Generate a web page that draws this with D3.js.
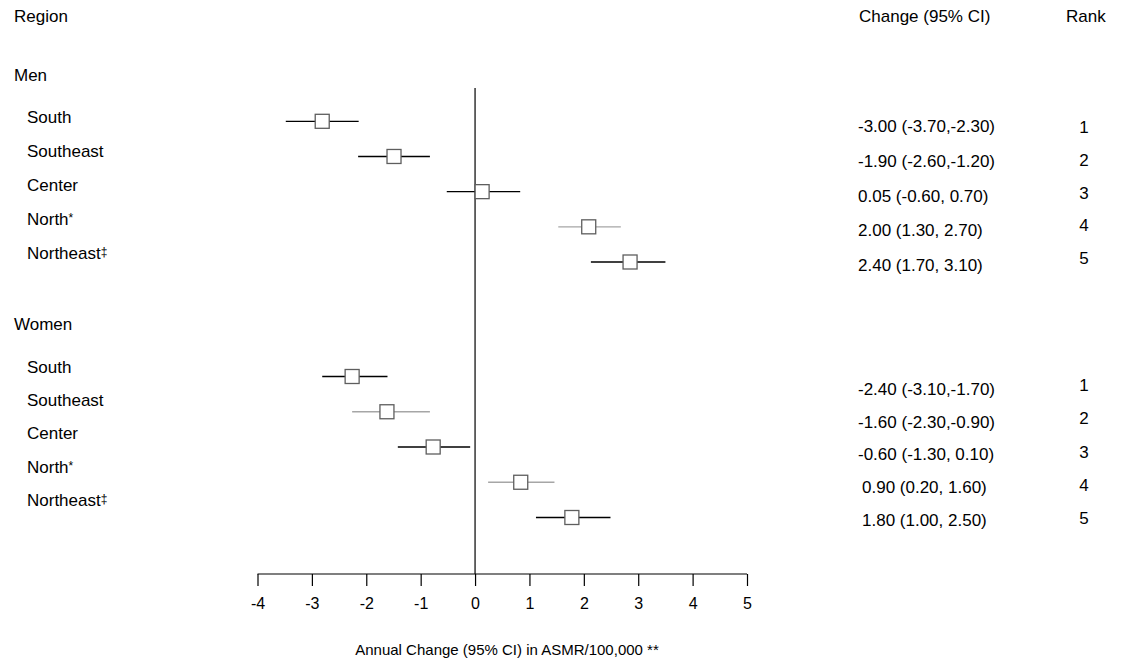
<!DOCTYPE html>
<html>
<head>
<meta charset="utf-8">
<script src="https://cdn.jsdelivr.net/npm/d3@7/dist/d3.min.js"></script>
<style>
  html, body { margin: 0; padding: 0; background: #fff; }
  svg { display: block; }
  text { font-family: "Liberation Sans", Arial, Helvetica, sans-serif; fill: #000; }
</style>
</head>
<body>
<svg id="chart" width="1125" height="663"></svg>
<script>
// ---------- data ----------
const groups = ["Men", "Women"];
const regions = ["South", "Southeast", "Center", "North*", "Northeast\u2021"];

// plotted estimates and 95% CI (as drawn in the figure)
const menEst   = [-2.81, -1.49, 0.13, 2.09, 2.85];
const menLow   = [-3.48, -2.15, -0.52, 1.53, 2.13];
const menHigh  = [-2.14, -0.83, 0.83, 2.68, 3.50];
const womenEst  = [-2.26, -1.62, -0.77, 0.84, 1.78];
const womenLow  = [-2.81, -2.26, -1.42, 0.24, 1.12];
const womenHigh = [-1.61, -0.83, -0.09, 1.46, 2.49];

// text columns
const menCI   = ["-3.00 (-3.70,-2.30)", "-1.90 (-2.60,-1.20)", "0.05 (-0.60, 0.70)", "2.00 (1.30, 2.70)", "2.40 (1.70, 3.10)"];
const womenCI = ["-2.40 (-3.10,-1.70)", "-1.60 (-2.30,-0.90)", "-0.60 (-1.30, 0.10)", "0.90 (0.20, 1.60)", "1.80 (1.00, 2.50)"];
const menRank   = ["1", "2", "3", "4", "5"];
const womenRank = ["1", "2", "3", "4", "5"];

const xTicks = [-4, -3, -2, -1, 0, 1, 2, 3, 4, 5];
const xLabel = "Annual Change (95% CI) in ASMR/100,000 **";
const headers = { region: "Region", change: "Change (95% CI)", rank: "Rank" };

// ---------- layout / style (not data) ----------
const grayRows = { Men: ["North*"], Women: ["Southeast", "North*"] };
const layout = {
  Men:   { header: 75,  label: [117.3, 253], mark: [121.3, 262], ci: [126.4, 265], rank: [126.8, 258.4] },
  Women: { header: 324, label: [366.7, 500], mark: [376.5, 517.5], ci: [389.2, 519.8], rank: [385.3, 518.1] }
};

const series = {
  Men:   { est: menEst, low: menLow, high: menHigh, ci: menCI, rank: menRank },
  Women: { est: womenEst, low: womenLow, high: womenHigh, ci: womenCI, rank: womenRank }
};

const svg = d3.select("#chart");
const x = d3.scaleLinear().domain([-4, 5]).range([257.5, 747]);
const axisY = 574;
const bigFont = 17;

// headers
svg.append("text").attr("x", 14).attr("y", 15.7).attr("dy", "0.35em")
  .style("font-size", bigFont + "px").text(headers.region);
svg.append("text").attr("x", 859).attr("y", 15.7).attr("dy", "0.35em")
  .style("font-size", bigFont + "px").text(headers.change);
svg.append("text").attr("x", 1066).attr("y", 15.7).attr("dy", "0.35em")
  .style("font-size", bigFont + "px").text(headers.rank);

// zero reference line
svg.append("line")
  .attr("x1", x(0)).attr("x2", x(0))
  .attr("y1", 88).attr("y2", axisY)
  .attr("stroke", "#000").attr("stroke-width", 1.2);

// x axis
const axis = d3.axisBottom(x).tickValues(xTicks).tickSize(12).tickPadding(12)
  .tickFormat(d3.format("d"));
const gAxis = svg.append("g").attr("transform", `translate(0,${axisY})`).call(axis);
gAxis.select(".domain").attr("stroke", "#000").attr("stroke-width", 1.2)
  .attr("d", `M${x(-4)},0H${x(5)}`);
gAxis.selectAll(".tick line").attr("stroke", "#000").attr("stroke-width", 1.2);
gAxis.selectAll(".tick text")
  .style("font-family", '"Liberation Sans", Arial, Helvetica, sans-serif')
  .style("font-size", "16px").attr("fill", "#000")
  .text(d => d < 0 ? "-" + Math.abs(d) : String(d));

svg.append("text").attr("x", 507).attr("y", 650).attr("dy", "0.35em")
  .attr("text-anchor", "middle").style("font-size", "15px").text(xLabel);

// region label with small raised footnote symbols
function writeLabel(sel, label) {
  const m = label.match(/^(.*?)([*\u2021]?)$/);
  sel.append("tspan").text(m[1]);
  if (m[2]) {
    sel.append("tspan").attr("dy", "-0.25em").style("font-size", "12px").text(m[2]);
  }
}

// groups
groups.forEach(g => {
  const L = layout[g];
  const s = series[g];
  const rows = regions.map((r, i) => ({
    region: r, est: s.est[i], low: s.low[i], high: s.high[i], ci: s.ci[i], rank: s.rank[i]
  }));
  const yLabel = d3.scalePoint().domain(regions).range(L.label);
  const yMark  = d3.scalePoint().domain(regions).range(L.mark);
  const yCI    = d3.scalePoint().domain(regions).range(L.ci);
  const yRank  = d3.scalePoint().domain(regions).range(L.rank);

  svg.append("text").attr("x", 14).attr("y", L.header).attr("dy", "0.35em")
    .style("font-size", bigFont + "px").text(g);

  const G = svg.append("g");
  G.selectAll("text.lab").data(rows).join("text").attr("class", "lab")
    .attr("x", 27).attr("y", d => yLabel(d.region) + 6)
    .style("font-size", bigFont + "px")
    .each(function (d) { writeLabel(d3.select(this), d.region); });

  G.selectAll("line.ci").data(rows).join("line").attr("class", "ci")
    .attr("x1", d => x(d.low)).attr("x2", d => x(d.high))
    .attr("y1", d => yMark(d.region)).attr("y2", d => yMark(d.region))
    .attr("stroke", d => grayRows[g].includes(d.region) ? "#a6a6a6" : "#000")
    .attr("stroke-width", 1.3);

  const box = 14;
  G.selectAll("rect.pt").data(rows).join("rect").attr("class", "pt")
    .attr("x", d => x(d.est) - box / 2).attr("y", d => yMark(d.region) - box / 2)
    .attr("width", box).attr("height", box)
    .attr("fill", "#fff").attr("stroke", "#5e5e5e").attr("stroke-width", 1.3);

  G.selectAll("text.ci").data(rows).join("text").attr("class", "ci")
    .attr("x", d => (g === "Women" && !d.ci.startsWith("-")) ? 862 : 858)
    .attr("y", d => yCI(d.region)).attr("dy", "0.35em")
    .style("font-size", bigFont + "px").text(d => d.ci);

  G.selectAll("text.rank").data(rows).join("text").attr("class", "rank")
    .attr("x", 1084).attr("y", d => yRank(d.region)).attr("dy", "0.35em")
    .attr("text-anchor", "middle")
    .style("font-size", bigFont + "px").text(d => d.rank);
});
</script>
</body>
</html>
